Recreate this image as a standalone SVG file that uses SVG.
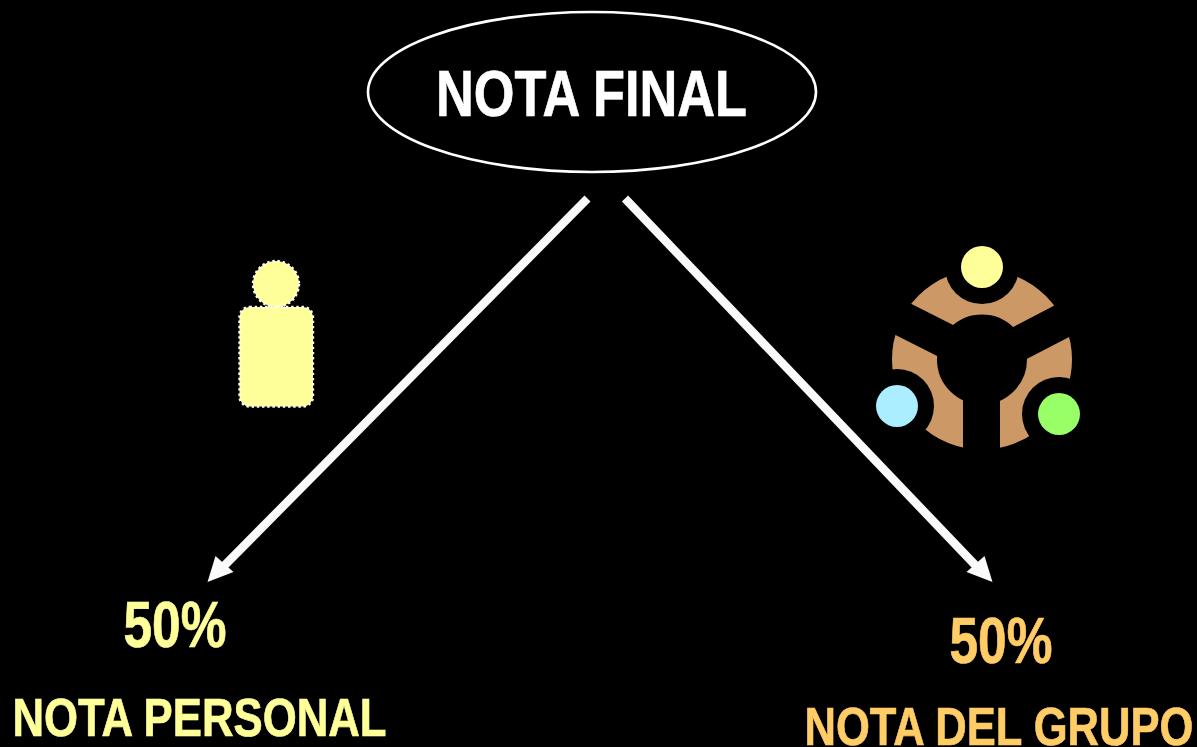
<svg xmlns="http://www.w3.org/2000/svg" width="1197" height="747" viewBox="0 0 1197 747">
<style>
text{font-family:"Liberation Sans",Arial,sans-serif;font-weight:bold;stroke-width:.7;text-anchor:middle}
.w{fill:#fff;stroke:#fff}.y{fill:#ffff99;stroke:#ffff99}.o{fill:#ffcc66;stroke:#ffcc66}
.dot{fill:#ffff99;stroke:#fff;stroke-width:2.4;stroke-dasharray:2.4 2.8}
.k{fill:#000}
.arrow{stroke:#fafafa;stroke-width:8.5;fill:none}
</style>
<rect width="1197" height="747" fill="#000"/>
<g id="nota-final">
<ellipse cx="592" cy="92" rx="224" ry="80" fill="#000" stroke="#fff" stroke-width="2.6"/>
<text x="591.5" y="115.5" class="w" font-size="64" textLength="311" lengthAdjust="spacingAndGlyphs">NOTA FINAL</text>
</g>
<g id="connectors">
<path class="arrow" d="M587.5 198.5L222 568"/>
<polygon fill="#fafafa" points="207.5,582 215.5,556 233.5,572"/>
<path class="arrow" d="M625 198.5L978 568"/>
<polygon fill="#fafafa" points="992.5,582 966.5,572 984.5,556"/>
</g>
<g id="persona">
<circle class="dot" cx="276" cy="284" r="23"/>
<rect class="dot" x="239.5" y="307" width="73.5" height="99.5" rx="10"/>
</g>
<g id="grupo">
<circle cx="982" cy="359.5" r="67.5" fill="none" stroke="#cc9966" stroke-width="45"/>
<rect class="k" x="963" y="359" width="37" height="100"/>
<polygon class="k" points="891.7,293.9 973,335 957,366 875.7,325"/>
<polygon class="k" points="1074,295.2 995,336.6 1008,368.6 1089,326.8"/>
<circle class="k" cx="982" cy="267" r="37"/>
<circle class="k" cx="897" cy="406" r="37"/>
<circle class="k" cx="1059" cy="414" r="37"/>
<circle cx="982" cy="267" r="21" fill="#ffff99"/>
<circle cx="897" cy="406" r="21" fill="#aaeeff"/>
<circle cx="1059" cy="414" r="21" fill="#99ff66"/>
</g>
<g id="nota-personal">
<text x="175" y="647" class="y" font-size="64" textLength="103" lengthAdjust="spacingAndGlyphs">50%</text>
<text x="199.5" y="736" class="y" font-size="54" textLength="374" lengthAdjust="spacingAndGlyphs">NOTA PERSONAL</text>
</g>
<g id="nota-grupo">
<text x="1001" y="663" class="o" font-size="64" textLength="103" lengthAdjust="spacingAndGlyphs">50%</text>
<text x="999" y="745" class="o" font-size="54" textLength="389" lengthAdjust="spacingAndGlyphs">NOTA DEL GRUPO</text>
</g>
</svg>
